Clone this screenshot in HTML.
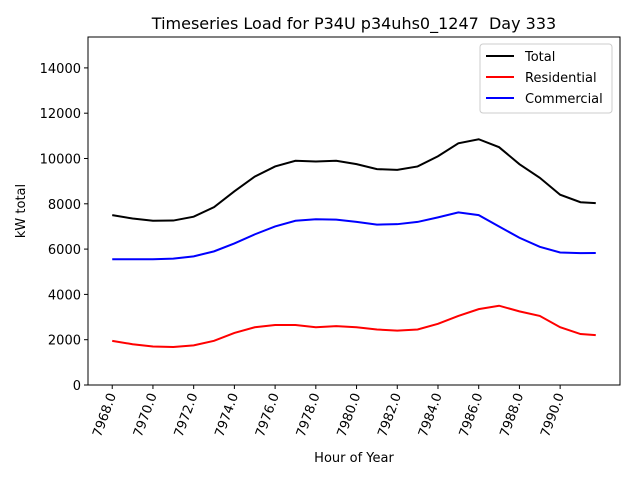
<!DOCTYPE html>
<html><head><meta charset="utf-8"><style>body{margin:0;background:#fff}svg{font-family:"DejaVu Sans","Liberation Sans",sans-serif}</style></head>
<body>
<svg id="c" width="640" height="480"></svg>
<script>
const hours=[7968,7969,7970,7971,7972,7973,7974,7975,7976,7977,7978,7979,7980,7981,7982,7983,7984,7985,7986,7987,7988,7989,7990,7991,7991.75];
const total=[7500,7350,7250,7260,7430,7850,8550,9200,9650,9900,9870,9900,9750,9530,9500,9650,10100,10670,10850,10500,9750,9150,8400,8070,8030];
const residential=[1950,1800,1700,1680,1750,1950,2300,2550,2650,2650,2550,2600,2550,2450,2400,2450,2700,3050,3350,3500,3250,3050,2550,2250,2200];
const commercial=[5550,5550,5550,5580,5680,5900,6250,6650,7000,7250,7320,7300,7200,7080,7100,7200,7400,7620,7500,7000,6500,6100,5850,5820,5830];
const xTicks=[7968,7970,7972,7974,7976,7978,7980,7982,7984,7986,7988,7990];
const yTicks=[0,2000,4000,6000,8000,10000,12000,14000];
const L=88,R=620,T=37,B=385,x0=7966.81,x1=7992.94,y1=15364;
const X=v=>L+(v-x0)/(x1-x0)*(R-L), Y=v=>B-v/y1*(B-T);
const s=document.getElementById('c'),NS='http://www.w3.org/2000/svg';
function mk(t,a,p){const e=document.createElementNS(NS,t);for(const k in a)e.setAttribute(k,a[k]);(p||s).appendChild(e);return e;}
let e;
e=mk('text',{x:354,y:29,'font-size':16,'text-anchor':'middle',style:'white-space:pre'});e.textContent='Timeseries Load for P34U p34uhs0_1247  Day 333';


xTicks.forEach(t=>{const x=X(t);mk('line',{x1:x,x2:x,y1:B,y2:B+4,stroke:'#000'});
e=mk('text',{'font-size':13,'text-anchor':'end',transform:`translate(${x+4},${B+10}) rotate(-70)`});e.textContent=t.toFixed(1);

});
yTicks.forEach(t=>{const y=Y(t);mk('line',{x1:L-4,x2:L,y1:y,y2:y,stroke:'#000'});
e=mk('text',{x:L-7,y:y+5,'font-size':13,'text-anchor':'end'});e.textContent=t;

});
e=mk('text',{x:354,y:462,'font-size':13,'text-anchor':'middle'});e.textContent='Hour of Year';


e=mk('text',{'font-size':13,'text-anchor':'middle',transform:`translate(25,211) rotate(-90)`});e.textContent='kW total';


[[total,'#000','total-line'],[residential,'red','residential-line'],[commercial,'blue','commercial-line']].forEach(([d,c,n])=>{
e=mk('polyline',{points:d.map((v,i)=>X(hours[i])+','+Y(v)).join(' '),fill:'none',stroke:c,'stroke-width':2});

});
mk('rect',{x:L,y:T,width:R-L,height:B-T,fill:'none',stroke:'#000'});
const g=mk('g',{});


mk('rect',{x:480,y:44,width:132,height:69,fill:'#fff',stroke:'#ccc',rx:3},g);
[['Total','#000'],['Residential','red'],['Commercial','blue']].forEach(([n,c],i)=>{const y=56+i*21;
mk('line',{x1:486,x2:514,y1:y,y2:y,stroke:c,'stroke-width':2},g);
const t=mk('text',{x:525,y:y+5,'font-size':13},g);t.textContent=n;

});
</script>
</body></html>
